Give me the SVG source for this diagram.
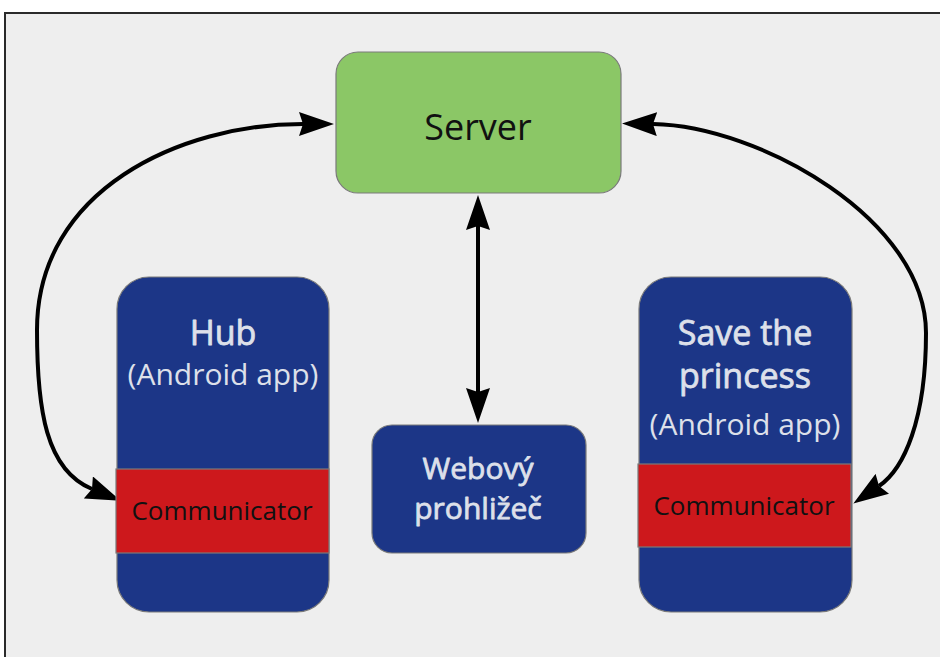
<svg xmlns="http://www.w3.org/2000/svg" width="940" height="657" viewBox="0 0 940 657">
  <style>
    .frame { fill: #eeeeee; stroke: #2a2a2a; stroke-width: 2; }
    .box { stroke: #7a7a7a; stroke-width: 1.2; }
    .server { fill: #8bc766; }
    .app { fill: #1c3687; }
    .comm { fill: #cd181c; stroke: #7a7a7a; stroke-width: 1.2; }
    .t { font-family: "Open Sans", "Noto Sans", "DejaVu Sans", sans-serif; text-anchor: middle; }
    /* semibold look for the node titles */
    .title { stroke: #dde0ea; stroke-width: 0.8; stroke-linejoin: round; }
    .light { fill: #dde0ea; }
    .dark { fill: #111111; }
    .link { fill: none; stroke: #000000; stroke-width: 4; }
  </style>
  <defs>
    <!-- notched arrowhead; reference point sits on the notch so the line ends inside the head -->
    <marker id="head" markerUnits="userSpaceOnUse" viewBox="0 0 35 24" markerWidth="35" markerHeight="24" refX="4" refY="12" orient="auto-start-reverse">
      <path d="M0,0 L35,12 L0,24 L4,12 z" fill="#000000"/>
    </marker>
  </defs>

  <!-- background panel -->
  <rect class="frame" x="5" y="13" width="945" height="655"/>

  <g id="connectors">
    <!-- Server <-> Hub communicator -->
    <path class="link" d="M303,124 C180,124 37,190 37,330 C37,410 46,470 92,489" marker-start="url(#head)" marker-end="url(#head)"/>
    <!-- Server <-> Save the princess communicator -->
    <path class="link" d="M653,124 C760,126 926,220 926,333 C926,420 904,469 879,486" marker-start="url(#head)" marker-end="url(#head)"/>
    <!-- Server <-> web browser -->
    <path class="link" d="M478,226 L478,392" marker-start="url(#head)" marker-end="url(#head)"/>
  </g>

  <g id="server">
    <rect class="box server" x="336" y="52" width="285" height="141" rx="22"/>
    <text class="t dark" x="478" y="140" font-size="36">Server</text>
  </g>

  <g id="hub">
    <rect class="box app" x="117" y="277" width="212" height="335" rx="32"/>
    <text class="t light title" x="223" y="345" font-size="34">Hub</text>
    <text class="t light" x="223" y="385" font-size="30">(Android app)</text>
    <g id="hub-communicator">
      <rect class="comm" x="116" y="469" width="213" height="84"/>
      <text class="t dark" x="222" y="520" font-size="26">Communicator</text>
    </g>
  </g>

  <g id="browser">
    <rect class="box app" x="372" y="425" width="214" height="128" rx="20"/>
    <text class="t light title" x="478" y="479" font-size="30">Webový</text>
    <text class="t light title" x="478" y="519" font-size="30">prohližeč</text>
  </g>

  <g id="princess">
    <rect class="box app" x="639" y="277" width="213" height="335" rx="32"/>
    <text class="t light title" x="745" y="345" font-size="34">Save the</text>
    <text class="t light title" x="745" y="388" font-size="34">princess</text>
    <text class="t light" x="745" y="435" font-size="30">(Android app)</text>
    <g id="princess-communicator">
      <rect class="comm" x="638" y="464" width="213" height="83"/>
      <text class="t dark" x="744" y="515" font-size="26">Communicator</text>
    </g>
  </g>
</svg>
